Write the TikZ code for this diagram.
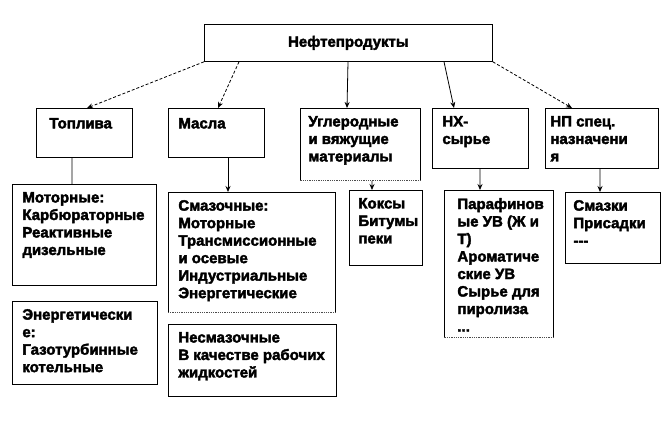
\documentclass[tikz,border=0pt]{standalone}
\usepackage{fontspec}
\setmainfont{Liberation Sans}[BoldFeatures={FakeBold=2.5}]
\usetikzlibrary{arrows.meta}

\tikzset{
  chart/.style={
    x=1bp, y=-1bp,
    line width=0.8bp,
    every node/.style={font=\bfseries\fontsize{15bp}{17.5bp}\selectfont},
    frame/.style={draw, rectangle, inner sep=0pt, anchor=north west},
    openframe/.style={
        rectangle,
        inner sep=0pt,
        anchor=north west,
        append after command={
            (\tikzlastnode.south west) edge (\tikzlastnode.north west)
            (\tikzlastnode.north west) edge (\tikzlastnode.north east)
            (\tikzlastnode.north east) edge (\tikzlastnode.south east)
            (\tikzlastnode.south east) edge[densely dotted, black!70] (\tikzlastnode.south west)
        },
    },
    boxtext/.style={align=left, inner sep=0pt, anchor=north west, execute at begin node=\strut},
    link/.style={-{Stealth[length=6bp,width=5bp]}},
    slantlink/.style={link, densely dashed},
  }
}
% name, style, x, y, width, height, left pad, text
\newcommand{\chartbox}[8]{
    \node[#2, minimum width=#5bp, minimum height=#6bp] (#1) at (#3,#4) {};
    \node[boxtext] (#1-text) at ([xshift=#7bp, yshift=-7.75bp]#1.north west) {#8};
}

\begin{document}
\begin{tikzpicture}[chart]
    \useasboundingbox (0,0) rectangle (663,420);

    \node[frame, minimum width=288bp, minimum height=37bp] (top) at (204,24) {Нефтепродукты};

    % second row
    \chartbox{fuel}{frame}{36}{108}{96}{49}{13}{Топлива}
    \chartbox{oil}{frame}{168}{108}{96}{49}{10}{Масла}
    \chartbox{carbon}{openframe}{300}{108}{120}{72}{8}{Углеродные\\и вяжущие\\материалы}
    \chartbox{petchem}{frame}{432}{108}{96}{60}{10}{НХ-\\сырье}
    \chartbox{special}{frame}{545}{108}{113}{60}{5}{НП спец.\\назначени\\я}

    % third row
    \chartbox{motor}{frame}{12}{184}{144}{101}{10}{Моторные:\\Карбюраторные\\Реактивные\\дизельные}
    \chartbox{power}{frame}{12}{301}{145}{83}{10}{Энергетически\\е:\\Газотурбинные\\котельные}
    \chartbox{lube}{openframe}{168}{192}{167}{120}{10}{Смазочные:\\Моторные\\Трансмиссионные\\и осевые\\Индустриальные\\Энергетические}
    \chartbox{nonlube}{frame}{168}{324}{168}{72}{10}{Несмазочные\\В качестве рабочих\\жидкостей}
    \chartbox{coke}{frame}{349}{190}{73}{75}{9}{Коксы\\Битумы\\пеки}
    \chartbox{paraffin}{openframe}{444}{190}{109}{147}{13}{Парафинов\\ые УВ (Ж и\\Т)\\Ароматиче\\ские УВ\\Сырье для\\пиролиза\\...}
    \chartbox{additive}{frame}{565}{192}{95}{71}{8}{Смазки\\Присадки\\{-}{-}{-}}

    % connectors
    \draw[slantlink] (top.south west) -- ([xshift=51bp]fuel.north west);
    \draw[slantlink] ([xshift=35bp]top.south west) -- ([xshift=50bp]oil.north west);
    \draw[link] ([xshift=144bp]top.south west) -- ([xshift=47bp]carbon.north west);
    \draw[link] ([xshift=240bp]top.south west) -- ([xshift=22bp]petchem.north west);
    \draw[slantlink] (top.south east) -- ([xshift=27bp]special.north west);

    \draw ([xshift=36bp]fuel.south west) -- ([xshift=60bp]motor.north west);
    \draw[link] ([xshift=60bp]oil.south west) -- ([xshift=60bp]lube.north west);
    \draw[link] ([xshift=72bp]carbon.south west) -- ([xshift=23bp]coke.north west);
    \draw[link] ([xshift=48bp]petchem.south west) -- ([xshift=36bp]paraffin.north west);
    \draw[link] ([xshift=55bp]special.south west) -- ([xshift=35bp]additive.north west);
\end{tikzpicture}
\end{document}
